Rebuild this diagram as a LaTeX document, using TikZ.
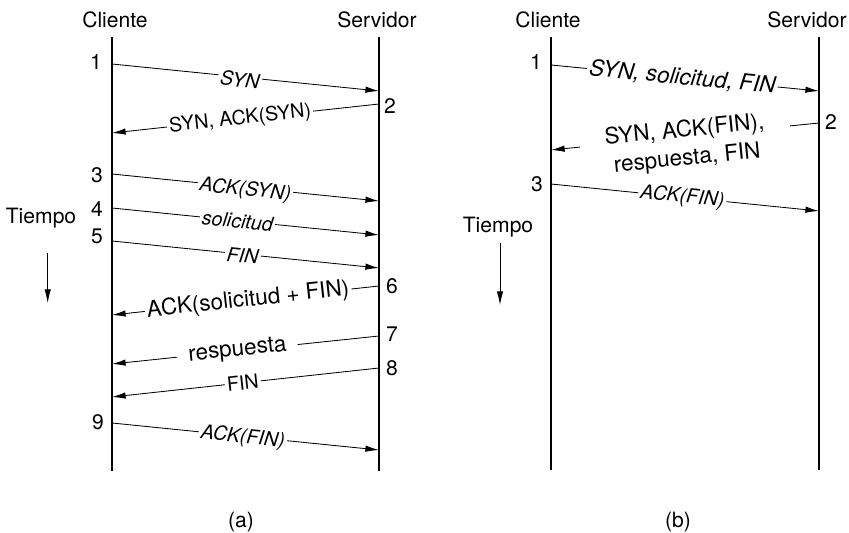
\documentclass[tikz,border=0pt]{standalone}
\usepackage{fontspec}
\setmainfont{TeX Gyre Heros}
\usetikzlibrary{arrows.meta}
\begin{document}
\begin{tikzpicture}[x=0.025cm,y=-0.025cm,font=\fontsize{15}{17}\selectfont,
  life/.style={line width=1pt},
  msg/.style={-{Latex[length=3.4mm,width=1.6mm]},line width=0.6pt},
  tag/.style={sloped,fill=white,inner sep=1.5pt,font=\fontsize{14}{16}\selectfont\itshape},
  rtag/.style={sloped,fill=white,inner sep=1.5pt,font=\fontsize{16}{18}\selectfont},
  num/.style={font=\fontsize{15}{17}\selectfont}]
  \useasboundingbox (0,0) rectangle (849,533);
  % (a)
  \node(cliA) at (115,20){Cliente}; \node(srvA) at (377,20){Servidor};
  \coordinate(ctA) at (112,37); \coordinate(cbA) at (112,471);
  \coordinate(stA) at (379,37); \coordinate(sbA) at (379,471);
  \draw[life](ctA)--(cbA); \draw[life](stA)--(sbA);
  \coordinate(ca1) at (112,64);  \coordinate(sa1) at (379,91);
  \coordinate(sa2) at (379,104); \coordinate(ca2) at (112,133);
  \coordinate(ca3) at (112,174); \coordinate(sa3) at (379,201);
  \coordinate(ca4) at (112,208); \coordinate(sa4) at (379,235);
  \coordinate(ca5) at (112,241); \coordinate(sa5) at (379,268);
  \coordinate(sa6) at (379,286); \coordinate(ca6) at (112,315);
  \coordinate(sa7) at (379,336); \coordinate(ca7) at (112,364);
  \coordinate(sa8) at (379,368); \coordinate(ca8) at (112,397);
  \coordinate(ca9) at (112,423); \coordinate(sa9) at (379,450);
  \node[num](n1) at (96,62){1}; \node[num](n2) at (390,106){2}; \node[num](n3) at (97,175){3};
  \node[num](n4) at (97,209){4}; \node[num](n5) at (97,236){5}; \node[num](n6) at (392,286){6};
  \node[num](n7) at (392,334){7}; \node[num](n8) at (392,368){8}; \node[num](n9) at (98,422){9};
  \draw[msg](ca1)--node[tag,pos=0.48,yshift=-2pt]{SYN}(sa1);
  \draw[msg](sa2)--node[rtag,pos=0.52,font=\fontsize{14}{16}\selectfont]{SYN, ACK(SYN)}(ca2);
  \draw[msg](ca3)--node[tag,pos=0.5,yshift=-2pt]{ACK(SYN)}(sa3);
  \draw[msg](ca4)--node[tag,pos=0.47]{solicitud}(sa4);
  \draw[msg](ca5)--node[tag,pos=0.49,yshift=-1pt]{FIN}(sa5);
  \draw[msg](sa6)--node[rtag,pos=0.49]{ACK(solicitud + FIN)}(ca6);
  \draw[msg](sa7)--node[rtag,pos=0.53,inner xsep=8pt]{respuesta}(ca7);
  \draw[msg](sa8)--node[rtag,pos=0.51,font=\fontsize{14}{16}\selectfont]{FIN}(ca8);
  \draw[msg](ca9)--node[tag,pos=0.49,yshift=-1pt]{ACK(FIN)}(sa9);
  \node(tA) at (41,218){Tiempo};
  \coordinate(ttA) at (47.7,253); \coordinate(tbA) at (47.7,303);
  \draw[msg](ttA)--(tbA);
  \node(capA) at (241,522){(a)};
  % (b)
  \node(cliB) at (548,20){Cliente}; \node(srvB) at (807,20){Servidor};
  \coordinate(ctB) at (551,37); \coordinate(cbB) at (551,470);
  \coordinate(stB) at (819,37); \coordinate(sbB) at (819,470);
  \draw[life](ctB)--(cbB); \draw[life](stB)--(sbB);
  \coordinate(cb1) at (551,65);  \coordinate(sb1) at (819,91);
  \coordinate(sb2) at (819,123); \coordinate(cb2) at (551,150);
  \coordinate(cb3) at (551,184); \coordinate(sb3) at (819,211);
  \node[num](m1) at (536,62){1}; \node[num](m2) at (831,122){2}; \node[num](m3) at (537,184){3};
  \draw[msg](cb1)--node[tag,pos=0.49,font=\fontsize{16}{18}\selectfont\itshape]{SYN, solicitud, FIN}(sb1);
  \draw[msg](sb2)--node[rtag,pos=0.5,yshift=-6pt,align=center,minimum width=150pt,
    font=\fontsize{16}{20}\selectfont]{SYN, ACK(FIN),\\respuesta, FIN}(cb2);
  \draw[msg](cb3)--node[tag,pos=0.49]{ACK(FIN)}(sb3);
  \node(tB) at (498,227){Tiempo};
  \coordinate(ttB) at (500,243); \coordinate(tbB) at (500,305);
  \draw[msg](ttB)--(tbB);
  \node(capB) at (678,522){(b)};
\end{tikzpicture}
\end{document}
